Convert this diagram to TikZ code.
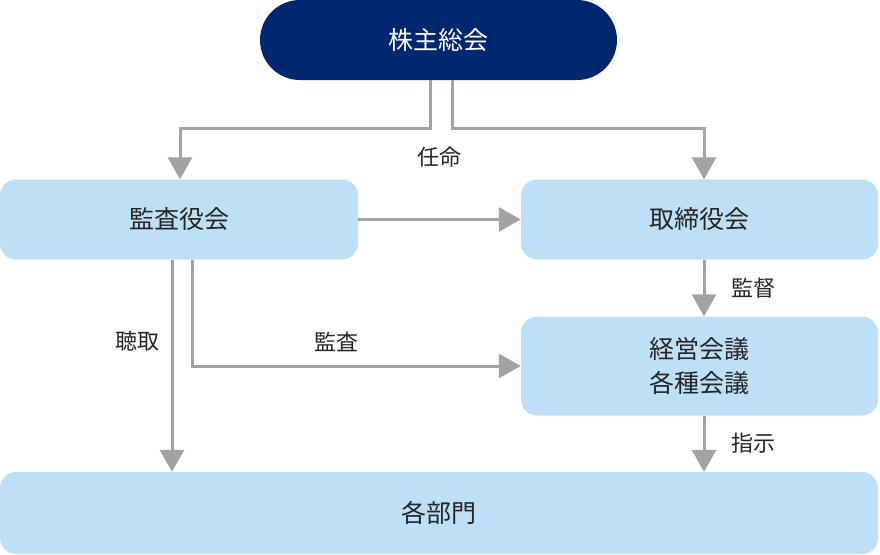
\documentclass[tikz,border=0pt]{standalone}
\usepackage{fontspec}
\setmainfont{Noto Sans CJK JP}
\usetikzlibrary{arrows.meta,calc}
\definecolor{navy}{HTML}{00286E}
\definecolor{lblue}{HTML}{BDE0F6}
\definecolor{agrey}{HTML}{A2A2A2}
\tikzset{
  box/.style={fill=lblue, rounded corners=16pt, inner sep=0pt, font=\fontsize{25}{34}\selectfont, text=black!85, align=center},
  topbox/.style={fill=navy, rounded corners=40pt, inner sep=0pt, font=\fontsize{25}{34}\selectfont, text=white},
  conn/.style={draw=agrey, line width=3pt, -{Triangle[width=24pt,length=22pt]}},
  lbl/.style={font=\fontsize{22}{28}\selectfont, text=black!85, inner sep=0pt}
}
\begin{document}
\begin{tikzpicture}[x=1pt,y=-1pt]
\useasboundingbox (0,0) rectangle (880,554);
\node[topbox, minimum width=357pt, minimum height=80pt] (kabu) at (438.5,40) {株主総会};
\node[box, minimum width=358pt, minimum height=80pt] (kansa) at (179,219.5) {監査役会};
\node[box, minimum width=357pt, minimum height=80pt] (tori) at (699.5,219.5) {取締役会};
\node[box, minimum width=357pt, minimum height=99pt] (keiei) at (699.5,366) {経営会議\\各種会議};
\node[box, minimum width=878pt, minimum height=82pt] (bumon) at (439,513) {各部門};
% 任命
\coordinate (jl) at (180,128);
\coordinate (jr) at (704,128);
\draw[conn] ($(kabu.south)+(-8.5,0)$) |- (jl) -- (kansa.north -| jl);
\draw[conn] ($(kabu.south)+(13.5,0)$) |- (jr) -- (tori.north -| jr);
\node[lbl] (ninmei) at (439,157) {任命};
% 監査役会 -> 取締役会
\draw[conn] (kansa.east) -- (tori.west);
% 監督
\draw[conn] (tori.south -| jr) -- (keiei.north -| jr);
\node[lbl] (kantoku) at (753,288) {監督};
% 指示
\draw[conn] (keiei.south -| jr) -- (bumon.north -| jr);
\node[lbl] (shiji) at (753,443) {指示};
% 聴取
\coordinate (cx) at (172,0);
\draw[conn] (kansa.south -| cx) -- (bumon.north -| cx);
\node[lbl] (choshu) at (137,341) {聴取};
% 監査
\coordinate (kx) at (192,366);
\draw[conn] (kansa.south -| kx) |- (keiei.west);
\node[lbl] (kansalbl) at (336,342) {監査};
\end{tikzpicture}
\end{document}
